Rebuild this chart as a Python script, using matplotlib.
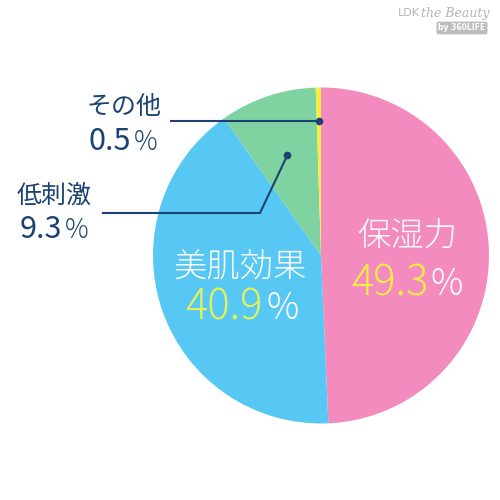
import numpy as np
import matplotlib
matplotlib.use("Agg")
import matplotlib.pyplot as plt

plt.rcParams['font.family'] = ['Noto Sans CJK JP', 'DejaVu Sans']

# data (clockwise from 12 o'clock)
labels = ["保湿力", "美肌効果", "低刺激", "その他"]
values = [49.3, 40.9, 9.3, 0.5]
colors = ["#F38BBE", "#57C7F4", "#7ED3A0", "#F4EF3C"]

NAVY = "#1B4272"
PINK_NUM = "#F6EC45"
BLUE_NUM = "#E4F25A"

fig = plt.figure(figsize=(5, 5), dpi=100)
ax = fig.add_axes([0, 0, 1, 1])
ax.set_aspect("equal")
ax.axis("off")

cx, cy, r = 321, 244.5, 168
wedges, _ = ax.pie(values, colors=colors, startangle=90, counterclock=False,
                   center=(cx, cy), radius=r, wedgeprops=dict(linewidth=0))
ax.set_xlim(0, 500)
ax.set_ylim(0, 500)


def inner_point(w, frac):
    ang = np.deg2rad((w.theta1 + w.theta2) / 2)
    return cx + frac * r * np.cos(ang), cy + frac * r * np.sin(ang)


def pct(x, y, val, col, size, pcol, psize, weight):
    # number and the smaller % sign share one baseline
    ax.text(x, 500 - y, f"{val}", color=col, fontsize=size, ha="right",
            va="baseline", fontweight=weight)
    ax.text(x + 3, 500 - y, "%", color=pcol, fontsize=psize, ha="left",
            va="baseline", fontweight="light")


# labels on the pie
ax.text(407, 500 - 236, labels[0], color="white", fontsize=24, ha="center", va="center",
        fontweight="light")
pct(428, 295, values[0], PINK_NUM, 30, "white", 26, "light")

ax.text(240, 500 - 267, labels[1], color="white", fontsize=24, ha="center", va="center",
        fontweight="light")
pct(263, 319, values[1], BLUE_NUM, 30, "white", 26, "light")

# outside labels
ax.text(124, 500 - 107, labels[3], color=NAVY, fontsize=18, ha="center", va="center")
pct(131, 150, values[3], NAVY, 22, NAVY, 19, "normal")

ax.text(54, 500 - 197, labels[2], color=NAVY, fontsize=18, ha="center", va="center")
pct(62, 238, values[2], NAVY, 22, NAVY, 19, "normal")

# leader lines
px, py = inner_point(wedges[3], 0.80)
ax.plot([170, px], [py, py], color=NAVY, lw=1.5, solid_capstyle="butt")
ax.plot(px, py, "o", color=NAVY, ms=4.5)

gx, gy = inner_point(wedges[2], 0.63)
ax.plot([103, 260, gx], [500 - 213, 500 - 213, gy], color=NAVY, lw=1.5,
        solid_joinstyle="miter")
ax.plot(gx, gy, "o", color=NAVY, ms=4.5)

# watermark
ax.text(398, 500 - 13, "LDK", color="#B5B5B5", fontsize=8, ha="left", va="center",
        family="DejaVu Sans")
ax.text(455, 500 - 13, "the Beauty", color="#B5B5B5", fontsize=9, ha="center",
        va="center", family="DejaVu Serif", style="italic")
ax.text(462, 500 - 28, "by 360LIFE", color="white", fontsize=5.5, ha="center",
        va="center", family="DejaVu Sans", fontweight="bold",
        bbox=dict(boxstyle="round,pad=0.25", fc="#BDBDBD", ec="none"))

fig.savefig("out.png", dpi=100)
